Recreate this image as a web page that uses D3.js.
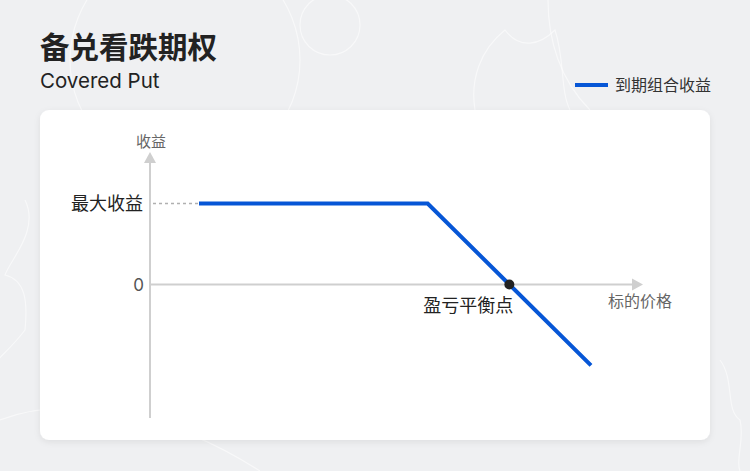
<!DOCTYPE html>
<html>
<head>
<meta charset="utf-8">
<script src="https://cdn.jsdelivr.net/npm/d3@7"></script>
<style>
  html, body { margin: 0; padding: 0; background: #eff0f2; }
  svg { display: block; }
</style>
</head>
<body>
<div id="chart"></div>
<script>
/* chart values */
var prices = [12, 68, 108];          // underlying price at each vertex
var payoffs = [20, 20, -20];         // portfolio payoff at expiry
var breakEven = 88;                  // price where payoff crosses 0
var maxProfit = 20;

var titleText = "备兑看跌期权";
var subtitleText = "Covered Put";
var legendLabel = "到期组合收益";
var yAxisLabel = "收益";
var xAxisLabel = "标的价格";
var maxLabel = "最大收益";
var zeroLabel = "0";
var breakEvenLabel = "盈亏平衡点";

var width = 750, height = 471;
var blue = "#0656d6";
var axisGray = "#cfcfcf";
var cjk = "'Noto Sans CJK SC', 'Noto Sans', sans-serif";

var svg = d3.select("#chart").append("svg")
    .attr("width", width)
    .attr("height", height);

var defs = svg.append("defs");
var shadow = defs.append("filter").attr("id", "shadow")
    .attr("x", "-5%").attr("y", "-5%").attr("width", "110%").attr("height", "115%");
shadow.append("feDropShadow")
    .attr("dx", 0).attr("dy", 2).attr("stdDeviation", 3)
    .attr("flood-color", "#000").attr("flood-opacity", 0.08);

/* background */
svg.append("rect").attr("width", width).attr("height", height).attr("fill", "#eff0f2");

/* faint decorative strokes */
var deco = svg.append("g").attr("fill", "none").attr("stroke", "#ffffff")
    .attr("stroke-opacity", 0.55).attr("stroke-width", 1.2);
deco.append("circle").attr("cx", 185).attr("cy", 60).attr("r", 115);
deco.append("circle").attr("cx", 330).attr("cy", 25).attr("r", 30);
deco.append("path").attr("d", "M475,110 C470,80 480,50 505,30 C520,50 540,45 555,30 C565,60 560,90 570,110");
deco.append("path").attr("d", "M548,0 C548,40 560,80 590,110");
deco.append("path").attr("d", "M25,200 C40,230 10,260 5,275 C25,280 28,300 25,330 C10,350 -5,360 -10,370");
deco.append("path").attr("d", "M720,360 C735,380 725,410 740,420 C745,440 735,460 740,471");
deco.append("path").attr("d", "M0,420 C80,390 180,420 260,471");

/* title */
svg.append("text")
    .attr("x", 40).attr("y", 58)
    .attr("font-family", cjk)
    .attr("font-size", 29.5).attr("font-weight", 700)
    .attr("fill", "#222")
    .text(titleText);

svg.append("text")
    .attr("x", 40).attr("y", 88)
    .attr("font-family", "Inter, 'Noto Sans', sans-serif")
    .attr("font-size", 20.5)
    .attr("fill", "#222")
    .text(subtitleText);

/* legend */
var legend = svg.append("g").attr("transform", "translate(575,85)");
legend.append("line")
    .attr("x1", 0).attr("x2", 33)
    .attr("stroke", blue).attr("stroke-width", 4);
legend.append("text")
    .attr("x", 40).attr("y", 6)
    .attr("font-family", cjk).attr("font-size", 16)
    .attr("fill", "#333")
    .text(legendLabel);

/* card */
svg.append("rect")
    .attr("x", 40).attr("y", 110)
    .attr("width", 670).attr("height", 330)
    .attr("rx", 9)
    .attr("fill", "#fff")
    .attr("filter", "url(#shadow)");

/* scales */
var x = d3.scaleLinear().domain([0, 120]).range([150, 640]);
var y = d3.scaleLinear().domain([-33, 32]).range([418, 155]);

var chart = svg.append("g");

/* axes with arrowheads */
chart.append("line")
    .attr("x1", x(0)).attr("x2", x(0))
    .attr("y1", y(-33)).attr("y2", y(31))
    .attr("stroke", axisGray).attr("stroke-width", 2);
chart.append("path")
    .attr("d", "M" + x(0) + "," + (y(32) - 3) + " l-6,11 l12,0 z")
    .attr("fill", axisGray);

chart.append("line")
    .attr("x1", x(0)).attr("x2", x(119))
    .attr("y1", y(0)).attr("y2", y(0))
    .attr("stroke", axisGray).attr("stroke-width", 2);
chart.append("path")
    .attr("d", "M" + (x(120) + 3) + "," + y(0) + " l-11,-6 l0,12 z")
    .attr("fill", axisGray);

/* dotted guide to max profit */
chart.append("line")
    .attr("x1", x(0) + 3).attr("x2", x(prices[0]))
    .attr("y1", y(maxProfit)).attr("y2", y(maxProfit))
    .attr("stroke", "#b0b0b0").attr("stroke-width", 1.5)
    .attr("stroke-dasharray", "3,3");

/* payoff line */
var pts = prices.map(function(p, i) { return [p, payoffs[i]]; });
var line = d3.line()
    .x(function(d) { return x(d[0]); })
    .y(function(d) { return y(d[1]); });

chart.append("path")
    .datum(pts)
    .attr("fill", "none")
    .attr("stroke", blue)
    .attr("stroke-width", 4)
    .attr("stroke-linejoin", "miter")
    .attr("d", line);

/* break-even point */
chart.append("circle")
    .attr("cx", x(breakEven)).attr("cy", y(0))
    .attr("r", 5)
    .attr("fill", "#222");

/* labels */
chart.append("text")
    .attr("x", x(0) + 1).attr("y", y(32) - 8)
    .attr("text-anchor", "middle")
    .attr("font-family", cjk).attr("font-size", 15)
    .attr("fill", "#666")
    .text(yAxisLabel);

chart.append("text")
    .attr("x", x(0) + 490).attr("y", y(0) + 23)
    .attr("text-anchor", "middle")
    .attr("font-family", cjk).attr("font-size", 16)
    .attr("fill", "#666")
    .text(xAxisLabel);

chart.append("text")
    .attr("x", x(0) - 7).attr("y", y(maxProfit) + 6)
    .attr("text-anchor", "end")
    .attr("font-family", cjk).attr("font-size", 18)
    .attr("fill", "#222")
    .text(maxLabel);

chart.append("text")
    .attr("x", x(0) - 6).attr("y", y(0) + 7)
    .attr("text-anchor", "end")
    .attr("font-family", "Inter, 'Noto Sans', sans-serif").attr("font-size", 17)
    .attr("fill", "#555")
    .text(zeroLabel);

chart.append("text")
    .attr("x", x(breakEven) - 41).attr("y", y(0) + 28)
    .attr("text-anchor", "middle")
    .attr("font-family", cjk).attr("font-size", 18)
    .attr("fill", "#222")
    .text(breakEvenLabel);
</script>
</body>
</html>
